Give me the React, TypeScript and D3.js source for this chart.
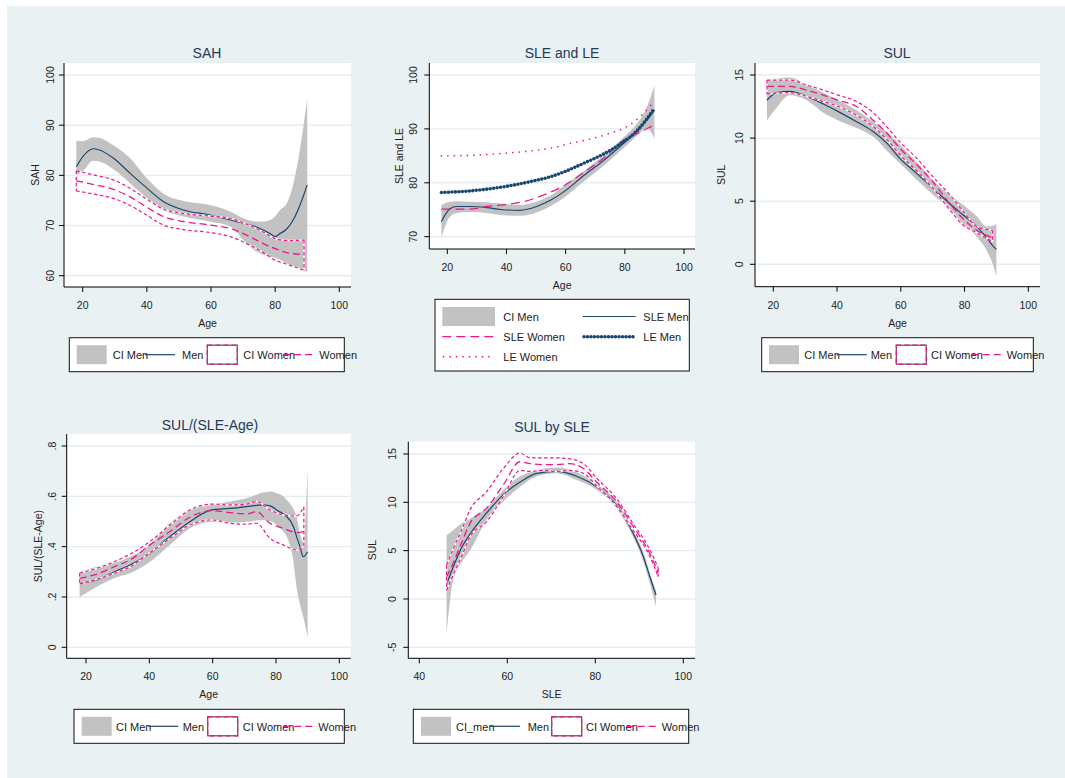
import React from "react";
import * as d3 from "d3";

// ---------------- DATA ----------------
// Panel 1: SAH by Age
const P1_AGE_M = [18, 20, 23.3, 25, 29.6, 34.8, 39.6, 45.1, 51.4, 59.7, 66, 71.1, 74.2, 76.3, 78.4, 80, 81.5, 83.6, 85.7, 87.7, 90];
const P1_SAH_M = [81.7, 83.7, 85.3, 85.1, 83.4, 80.4, 77.7, 74.8, 73.1, 72.1, 71.1, 70.3, 69.7, 69.1, 68.4, 67.8, 68.4, 69.3, 71.2, 74.0, 78.1];
const P1_SAH_M_HI = [86.9, 86.8, 87.6, 87.5, 86.0, 83.4, 79.7, 76.4, 74.9, 74.1, 72.8, 71.2, 70.8, 70.8, 71.1, 71.8, 73.1, 74.4, 78.4, 85.0, 95.3];
const P1_SAH_M_LO = [80.0, 80.8, 82.9, 82.8, 81.2, 78.4, 75.7, 73.1, 71.8, 70.8, 69.8, 66.4, 64.8, 64.2, 63.8, 63.6, 63.2, 62.5, 61.8, 61.2, 60.8];
const P1_AGE_W = [18, 24, 29.6, 34.8, 39.6, 45.1, 51.4, 59.7, 66, 71.1, 76.3, 80, 83.6, 89];
const P1_SAH_W = [78.9, 78.1, 77.2, 75.7, 73.8, 71.8, 70.8, 70.1, 69.4, 68.1, 66.4, 65.4, 64.6, 64.2];
const P1_SAH_W_HI = [80.9, 80.0, 79.1, 77.4, 75.4, 73.3, 72.4, 71.9, 71.4, 70.3, 68.7, 67.4, 67.0, 67.1];
const P1_SAH_W_LO = [76.9, 76.2, 75.4, 74.0, 72.2, 70.1, 69.2, 68.6, 67.8, 66.4, 64.6, 63.1, 62.3, 61.1];

// Panel 2: SLE and LE by Age
const P2_AGE_M = [18, 20.9, 23.2, 27.7, 33.3, 38.9, 44.6, 50.2, 54.7, 59.8, 66, 72.7, 79.5, 84, 86.3, 87.4, 90];
const P2_SLE_M = [72.8, 75.2, 75.6, 75.6, 75.4, 75.0, 74.9, 75.6, 76.7, 78.5, 81.3, 84.1, 87.3, 89.5, 90.9, 91.6, 93.5];
const P2_SLE_M_HI = [75.9, 76.5, 76.6, 76.5, 76.4, 76.1, 75.9, 76.5, 77.6, 79.6, 82.1, 85.0, 88.4, 90.9, 92.8, 94.0, 98.1];
const P2_SLE_M_LO = [69.9, 73.7, 74.4, 74.6, 74.4, 74.0, 73.9, 74.5, 75.6, 77.4, 80.2, 83.1, 86.4, 88.7, 89.8, 90.2, 88.2];
const P2_AGE_SLEW = [18, 27.7, 33.3, 38.9, 45.7, 52.4, 59.8, 66, 72.7, 79.5, 84, 89.1];
const P2_SLE_W = [75.1, 75.1, 75.6, 75.9, 76.5, 77.7, 79.6, 81.9, 84.5, 87.9, 89.1, 90.5];
const P2_AGE_LEM = [18, 27.7, 39.5, 47.9, 54.7, 59.8, 66, 72.7, 79.5, 84, 90];
const P2_LE_M = [78.2, 78.5, 79.3, 80.2, 81.1, 82.1, 83.6, 85.3, 87.6, 89.6, 93.8];
const P2_AGE_LEW = [18, 27.7, 39.5, 47.9, 54.7, 61.5, 68.2, 75, 79.5, 84, 89.6];
const P2_LE_W = [85.0, 85.1, 85.5, 85.9, 86.4, 87.3, 88.1, 89.2, 90.1, 91.7, 94.9];

// Panel 3: SUL by Age
const P3_AGE_M = [18, 21, 25.2, 30.5, 35.7, 40.4, 46.1, 51.4, 55.6, 59.7, 65, 70.2, 75.4, 79.6, 83.8, 86.9, 89.5, 90];
const P3_SUL_M = [13.0, 13.6, 13.7, 13.3, 12.7, 12.1, 11.3, 10.5, 9.6, 8.4, 7.2, 6.0, 4.8, 3.9, 3.0, 2.1, 1.3, 1.2];
const P3_SUL_M_HI = [14.6, 14.7, 14.8, 14.2, 13.6, 13.0, 12.2, 11.3, 10.5, 9.5, 8.1, 6.6, 5.5, 4.7, 3.8, 3.0, 3.1, 3.3];
const P3_SUL_M_LO = [11.4, 12.4, 13.4, 13.0, 12.0, 11.4, 10.8, 10.1, 9.0, 8.0, 6.7, 5.5, 4.4, 3.2, 2.2, 1.1, -0.5, -1.0];
const P3_AGE_W = [18, 25.2, 30.5, 35.7, 40.4, 46.1, 51.4, 55.6, 59.7, 65, 70.2, 75.4, 79.6, 83.8, 88.8];
const P3_SUL_W = [14.1, 14.1, 13.8, 13.4, 13.0, 12.5, 11.4, 10.4, 9.2, 7.9, 6.5, 4.8, 3.6, 2.7, 2.1];
const P3_SUL_W_HI = [14.6, 14.6, 14.2, 13.8, 13.4, 12.9, 12.0, 10.9, 9.7, 8.4, 6.9, 5.5, 4.2, 3.0, 2.7];
const P3_SUL_W_LO = [13.5, 13.6, 13.3, 12.9, 12.5, 11.8, 10.9, 9.9, 8.7, 7.4, 6.0, 4.3, 3.1, 2.5, 1.8];

// Panel 4: SUL/(SLE-Age) by Age
const P4_AGE_M = [18, 23.4, 30.2, 33.9, 40.2, 46.5, 52.8, 59.7, 65.5, 70.7, 76, 78.6, 80.2, 82.3, 83.4, 85.5, 86.5, 87.6, 88.6, 90];
const P4_R_M = [0.254, 0.268, 0.307, 0.327, 0.374, 0.44, 0.499, 0.546, 0.552, 0.559, 0.566, 0.56, 0.546, 0.53, 0.519, 0.48, 0.44, 0.4, 0.36, 0.38];
const P4_R_M_HI = [0.3, 0.32, 0.34, 0.36, 0.407, 0.493, 0.546, 0.566, 0.579, 0.592, 0.615, 0.619, 0.612, 0.6, 0.585, 0.55, 0.52, 0.45, 0.42, 0.711];
const P4_R_M_LO = [0.2, 0.241, 0.28, 0.294, 0.34, 0.407, 0.473, 0.499, 0.495, 0.499, 0.506, 0.5, 0.486, 0.46, 0.44, 0.34, 0.241, 0.17, 0.122, 0.042];
const P4_AGE_W = [18, 23.4, 30.2, 33.9, 40.2, 46.5, 52.8, 59.7, 65.5, 70.7, 73.9, 78.1, 82.3, 86.5, 88.8];
const P4_R_W = [0.274, 0.291, 0.327, 0.347, 0.407, 0.46, 0.517, 0.543, 0.535, 0.53, 0.539, 0.493, 0.473, 0.456, 0.46];
const P4_R_W_HI = [0.294, 0.314, 0.347, 0.37, 0.42, 0.486, 0.546, 0.569, 0.566, 0.569, 0.579, 0.546, 0.526, 0.522, 0.559];
const P4_R_W_LO = [0.252, 0.27, 0.3, 0.32, 0.376, 0.433, 0.486, 0.506, 0.493, 0.489, 0.493, 0.433, 0.407, 0.387, 0.403];

// Panel 5: SUL by SLE
const P5_SLE_M = [46.2, 47.7, 49.6, 51.5, 55.3, 59.1, 62.9, 66.7, 71.2, 75.8, 80.3, 84.8, 88.6, 90.9, 92.4, 93.8];
const P5_SUL_M = [1.5, 3.3, 5.3, 6.7, 8.9, 10.8, 12.1, 13.0, 13.2, 12.7, 11.6, 9.7, 6.8, 4.4, 2.3, 0.4];
const P5_SUL_M_HI = [6.6, 7.1, 7.8, 8.3, 9.4, 11.3, 12.7, 13.3, 13.6, 13.1, 11.9, 10.1, 7.1, 4.9, 2.7, 0.8];
const P5_SUL_M_LO = [-3.7, 2.0, 3.8, 5.0, 8.2, 10.1, 11.6, 12.7, 13.0, 12.3, 11.3, 9.4, 6.4, 3.9, 1.6, -0.8];
const P5_SLE_W = [46.2, 47.7, 49.6, 51.5, 55.3, 59.1, 62.9, 65.2, 68.2, 71.2, 74.2, 77.3, 80.3, 84.8, 88.6, 92.4, 94.3];
const P5_SUL_W = [2.3, 3.7, 5.8, 7.8, 9.4, 11.8, 14.2, 14.0, 13.9, 13.9, 14.0, 13.5, 12.1, 10.1, 7.5, 4.7, 2.7];
const P5_SUL_W_HI = [3.5, 5.2, 7.1, 9.2, 11.1, 13.5, 15.1, 14.6, 14.6, 14.6, 14.5, 14.0, 12.5, 10.4, 7.8, 5.1, 3.2];
const P5_SUL_W_LO = [0.9, 2.5, 4.4, 6.4, 8.0, 10.6, 13.3, 13.2, 13.3, 13.2, 13.3, 13.0, 11.7, 9.6, 7.1, 4.4, 2.3];

// Ticks
const AGE_TICKS = [20, 40, 60, 80, 100];
const SLE_TICKS = [40, 60, 80, 100];
const SAH_TICKS = [60, 70, 80, 90, 100];
const SLELE_TICKS = [70, 80, 90, 100];
const SUL_TICKS = [0, 5, 10, 15];
const RATIO_TICKS = [0, 0.2, 0.4, 0.6, 0.8];
const RATIO_LABELS = ["0", ".2", ".4", ".6", ".8"];
const SUL5_TICKS = [-5, 0, 5, 10, 15];

// ---------------- STYLE ----------------
const FONT = "'Liberation Sans', Arial, Helvetica, sans-serif";
const NAVY = "#1a476f";
const PINK = "#f0168c";
const GRAY = "#c2c2c2";
const BG = "#eaf1f3";
const GRID = "#e4edf0";
const TITLE = "#24395a";
const TXT = "#222";

type Style = { stroke: string; width: number; dash?: string; cap?: "round" | "butt" };
const S_MEN: Style = { stroke: NAVY, width: 1.2 };
const S_WMEAN: Style = { stroke: PINK, width: 1.3, dash: "7 4" };
const S_SLEW: Style = { stroke: PINK, width: 1.3, dash: "9 5" };
const S_LEM: Style = { stroke: NAVY, width: 3.6, dash: "0 3.5", cap: "round" };
const S_LEW: Style = { stroke: PINK, width: 1.7, dash: "0 6.5", cap: "round" };
const S_CIW: Style = { stroke: PINK, width: 1.2, dash: "3.5 2.5" };

type Layer =
  | { kind: "area"; xs: number[]; lo: number[]; hi: number[] }
  | { kind: "line"; xs: number[]; ys: number[]; style: Style }
  | { kind: "ciw"; xs: number[]; lo: number[]; hi: number[] };

type PanelCfg = {
  title: string; titleX: number; titleY: number;
  left: number; right: number; top: number; bottom: number;
  xDom: [number, number]; xRng: [number, number];
  yDom: [number, number]; yRng: [number, number];
  xTicks: number[]; yTicks: number[]; yLabels?: string[];
  xTitle: string; yTitle: string; yTitleX: number; yLabelOff: number;
  layers: Layer[];
};

function Panel({ c }: { c: PanelCfg }) {
  const x = d3.scaleLinear().domain(c.xDom).range(c.xRng);
  const y = d3.scaleLinear().domain(c.yDom).range(c.yRng);
  const line = d3.line<[number, number]>().x((d) => x(d[0])).y((d) => y(d[1])).curve(d3.curveMonotoneX);
  const area = d3
    .area<[number, number, number]>()
    .x((d) => x(d[0]))
    .y0((d) => y(d[1]))
    .y1((d) => y(d[2]))
    .curve(d3.curveMonotoneX);
  const zip = (a: number[], b: number[]) => a.map((v, i) => [v, b[i]] as [number, number]);

  const renderLine = (d: string, s: Style, key: string) => (
    <path key={key} d={d} fill="none" stroke={s.stroke} strokeWidth={s.width}
      strokeDasharray={s.dash} strokeLinecap={s.cap || "butt"} strokeLinejoin="round" />
  );

  return (
    <g>
      <rect x={c.left} y={c.top} width={c.right - c.left} height={c.bottom - c.top} fill="#fff" />
      {c.yTicks.map((t) => (
        <line key={"g" + t} x1={c.left} x2={c.right} y1={y(t)} y2={y(t)} stroke={GRID} strokeWidth={1.4} />
      ))}
      {c.layers.map((L, i) => {
        if (L.kind === "area") {
          const pts = L.xs.map((v, j) => [v, L.lo[j], L.hi[j]] as [number, number, number]);
          return <path key={i} d={area(pts) || ""} fill={GRAY} stroke="none" />;
        }
        if (L.kind === "line") {
          return renderLine(line(zip(L.xs, L.ys)) || "", L.style, "l" + i);
        }
        const n = L.xs.length - 1;
        const segs = [
          line(zip(L.xs, L.hi)) || "",
          line(zip(L.xs, L.lo)) || "",
          `M${x(L.xs[0])},${y(L.hi[0])}L${x(L.xs[0])},${y(L.lo[0])}`,
          `M${x(L.xs[n])},${y(L.hi[n])}L${x(L.xs[n])},${y(L.lo[n])}`,
        ];
        return (
          <g key={i}>
            {segs.map((d, k) => renderLine(d, { stroke: "#fff", width: 1.5 }, "w" + k))}
            {segs.map((d, k) => renderLine(d, S_CIW, "p" + k))}
          </g>
        );
      })}
      {/* axes */}
      <line x1={c.left} x2={c.left} y1={c.top} y2={c.bottom} stroke="#000" strokeWidth={1} />
      <line x1={c.left} x2={c.right} y1={c.bottom} y2={c.bottom} stroke="#000" strokeWidth={1} />
      {c.yTicks.map((t, i) => (
        <g key={"yt" + t}>
          <line x1={c.left - 5} x2={c.left} y1={y(t)} y2={y(t)} stroke="#000" />
          <text transform={`translate(${c.left - c.yLabelOff},${y(t)}) rotate(-90)`} textAnchor="middle"
            dominantBaseline="central" fontSize={10.5} fill={TXT} fontFamily={FONT}>
            {c.yLabels ? c.yLabels[i] : String(t)}
          </text>
        </g>
      ))}
      {c.xTicks.map((t) => (
        <g key={"xt" + t}>
          <line x1={x(t)} x2={x(t)} y1={c.bottom} y2={c.bottom + 5} stroke="#000" />
          <text x={x(t)} y={c.bottom + 18} textAnchor="middle" dominantBaseline="central" fontSize={10.5}
            fill={TXT} fontFamily={FONT}>{t}</text>
        </g>
      ))}
      <text x={(c.left + c.right) / 2} y={c.bottom + 36} textAnchor="middle" dominantBaseline="central"
        fontSize={10.5} fill={TXT} fontFamily={FONT}>{c.xTitle}</text>
      <text transform={`translate(${c.yTitleX},${(c.top + c.bottom) / 2}) rotate(-90)`} textAnchor="middle"
        dominantBaseline="central" fontSize={10.5} fill={TXT} fontFamily={FONT}>{c.yTitle}</text>
      <text x={c.titleX} y={c.titleY} textAnchor="middle" dominantBaseline="central" fontSize={14}
        fill={TITLE} fontFamily={FONT}>{c.title}</text>
    </g>
  );
}

type LegItem = { kind: "ci" | "ciw" | "line"; x0: number; x1: number; cy: number; tx: number; label: string; style?: Style };
type LegCfg = { box: [number, number, number, number]; items: LegItem[]; clip?: boolean; id: string };

function Legend({ L }: { L: LegCfg }) {
  const [x0, y0, x1, y1] = L.box;
  return (
    <g>
      {L.clip && (
        <defs>
          <clipPath id={L.id}>
            <rect x={x0} y={y0} width={x1 - x0} height={y1 - y0} />
          </clipPath>
        </defs>
      )}
      <rect x={x0} y={y0} width={x1 - x0} height={y1 - y0} fill="#fff" stroke="none" />
      <g clipPath={L.clip ? `url(#${L.id})` : undefined}>
        {L.items.map((it, i) => (
          <g key={i}>
            {it.kind === "ci" && <rect x={it.x0} y={it.cy - 9.5} width={it.x1 - it.x0} height={19} fill={GRAY} />}
            {it.kind === "ciw" && (
              <g>
                <rect x={it.x0} y={it.cy - 9.5} width={it.x1 - it.x0} height={19} fill="#fff" stroke="#555" strokeWidth={1.2} />
                <rect x={it.x0} y={it.cy - 9.5} width={it.x1 - it.x0} height={19} fill="none" stroke={PINK}
                  strokeWidth={1.3} strokeDasharray="5 3" />
              </g>
            )}
            {it.kind === "line" && it.style && (
              <line x1={it.x0} x2={it.x1} y1={it.cy} y2={it.cy} stroke={it.style.stroke} strokeWidth={it.style.width}
                strokeDasharray={it.style.dash} strokeLinecap={it.style.cap || "butt"} />
            )}
            <text x={it.tx} y={it.cy + 0.5} dominantBaseline="central" fontSize={11} fill={TXT} fontFamily={FONT}>
              {it.label}
            </text>
          </g>
        ))}
      </g>
      <rect x={x0} y={y0} width={x1 - x0} height={y1 - y0} fill="none" stroke="#111" strokeWidth={1} />
    </g>
  );
}

function stdLegend(id: string, box: [number, number, number, number], k: number[], ciLabel: string): LegCfg {
  const cy = (box[1] + box[3]) / 2;
  return {
    id, box,
    items: [
      { kind: "ci", x0: k[0], x1: k[0] + 30, cy, tx: k[1], label: ciLabel },
      { kind: "line", x0: k[2], x1: k[2] + 30, cy, tx: k[3], label: "Men", style: S_MEN },
      { kind: "ciw", x0: k[4], x1: k[4] + 30, cy, tx: k[5], label: "CI Women" },
      { kind: "line", x0: k[6], x1: k[6] + 30, cy, tx: k[7], label: "Women", style: S_WMEAN },
    ],
  };
}

export default function App() {
  const panels: PanelCfg[] = [
    {
      title: "SAH", titleX: 207, titleY: 52.5, left: 64, right: 351, top: 63, bottom: 287,
      xDom: [20, 100], xRng: [82.7, 339.3], yDom: [60, 100], yRng: [275.7, 75],
      xTicks: AGE_TICKS, yTicks: SAH_TICKS, xTitle: "Age", yTitle: "SAH", yTitleX: 35, yLabelOff: 14,
      layers: [
        { kind: "area", xs: P1_AGE_M, lo: P1_SAH_M_LO, hi: P1_SAH_M_HI },
        { kind: "line", xs: P1_AGE_M, ys: P1_SAH_M, style: S_MEN },
        { kind: "ciw", xs: P1_AGE_W, lo: P1_SAH_W_LO, hi: P1_SAH_W_HI },
        { kind: "line", xs: P1_AGE_W, ys: P1_SAH_W, style: S_WMEAN },
      ],
    },
    {
      title: "SLE and LE", titleX: 562, titleY: 52.5, left: 429.3, right: 695, top: 63, bottom: 249,
      xDom: [20, 100], xRng: [447.3, 684], yDom: [70, 100], yRng: [236.7, 75],
      xTicks: AGE_TICKS, yTicks: SLELE_TICKS, xTitle: "Age", yTitle: "SLE and LE", yTitleX: 399, yLabelOff: 16,
      layers: [
        { kind: "area", xs: P2_AGE_M, lo: P2_SLE_M_LO, hi: P2_SLE_M_HI },
        { kind: "line", xs: P2_AGE_M, ys: P2_SLE_M, style: S_MEN },
        { kind: "line", xs: P2_AGE_SLEW, ys: P2_SLE_W, style: S_SLEW },
        { kind: "line", xs: P2_AGE_LEM, ys: P2_LE_M, style: S_LEM },
        { kind: "line", xs: P2_AGE_LEW, ys: P2_LE_W, style: S_LEW },
      ],
    },
    {
      title: "SUL", titleX: 897, titleY: 52.5, left: 755, right: 1040, top: 63, bottom: 286.7,
      xDom: [20, 100], xRng: [773.3, 1028.3], yDom: [0, 15], yRng: [264.3, 75],
      xTicks: AGE_TICKS, yTicks: SUL_TICKS, xTitle: "Age", yTitle: "SUL", yTitleX: 721, yLabelOff: 16,
      layers: [
        { kind: "area", xs: P3_AGE_M, lo: P3_SUL_M_LO, hi: P3_SUL_M_HI },
        { kind: "line", xs: P3_AGE_M, ys: P3_SUL_M, style: S_MEN },
        { kind: "ciw", xs: P3_AGE_W, lo: P3_SUL_W_LO, hi: P3_SUL_W_HI },
        { kind: "line", xs: P3_AGE_W, ys: P3_SUL_W, style: S_WMEAN },
      ],
    },
    {
      title: "SUL/(SLE-Age)", titleX: 210, titleY: 425, left: 66.7, right: 350.7, top: 434, bottom: 658.3,
      xDom: [20, 100], xRng: [86, 339.3], yDom: [0, 0.8], yRng: [647.3, 446],
      xTicks: AGE_TICKS, yTicks: RATIO_TICKS, yLabels: RATIO_LABELS, xTitle: "Age", yTitle: "SUL/(SLE-Age)",
      yTitleX: 38, yLabelOff: 15,
      layers: [
        { kind: "area", xs: P4_AGE_M, lo: P4_R_M_LO, hi: P4_R_M_HI },
        { kind: "line", xs: P4_AGE_M, ys: P4_R_M, style: S_MEN },
        { kind: "ciw", xs: P4_AGE_W, lo: P4_R_W_LO, hi: P4_R_W_HI },
        { kind: "line", xs: P4_AGE_W, ys: P4_R_W, style: S_WMEAN },
      ],
    },
    {
      title: "SUL by SLE", titleX: 552, titleY: 426.5, left: 408.3, right: 695, top: 441.7, bottom: 658.3,
      xDom: [40, 100], xRng: [419.3, 683.3], yDom: [-5, 15], yRng: [647.3, 454],
      xTicks: SLE_TICKS, yTicks: SUL5_TICKS, xTitle: "SLE", yTitle: "SUL", yTitleX: 372, yLabelOff: 16,
      layers: [
        { kind: "area", xs: P5_SLE_M, lo: P5_SUL_M_LO, hi: P5_SUL_M_HI },
        { kind: "line", xs: P5_SLE_M, ys: P5_SUL_M, style: S_MEN },
        { kind: "ciw", xs: P5_SLE_W, lo: P5_SUL_W_LO, hi: P5_SUL_W_HI },
        { kind: "line", xs: P5_SLE_W, ys: P5_SUL_W, style: S_WMEAN },
      ],
    },
  ];

  const legends: LegCfg[] = [
    stdLegend("lg1", [69.3, 337.7, 344.3, 371.7], [76.7, 112.7, 145, 182, 207.3, 243.3, 283, 319.3], "CI Men"),
    stdLegend("lg3", [761.7, 337.7, 1033.3, 371.7], [769, 804.3, 836.7, 870.7, 896.3, 931, 971.7, 1006.7], "CI Men"),
    stdLegend("lg4", [74, 709.3, 344.3, 743.3], [81.7, 116, 148.3, 182.7, 207.7, 242.7, 283.3, 318.3], "CI Men"),
    stdLegend("lg5", [413.3, 709.3, 688.7, 743.3], [421, 456, 490, 527.7, 551.7, 586, 626.7, 661.7], "CI_men"),
    {
      id: "lg2", box: [435, 299.3, 689.3, 371], clip: true,
      items: [
        { kind: "ci", x0: 442.3, x1: 495, cy: 316.5, tx: 503.3, label: "CI Men" },
        { kind: "line", x0: 582.7, x1: 635.7, cy: 316.5, tx: 643.3, label: "SLE Men", style: S_MEN },
        { kind: "line", x0: 442.3, x1: 495, cy: 336.7, tx: 503.3, label: "SLE Women", style: S_SLEW },
        { kind: "line", x0: 584, x1: 635.7, cy: 336.7, tx: 643.3, label: "LE Men", style: S_LEM },
        { kind: "line", x0: 443.5, x1: 495, cy: 356.7, tx: 503.3, label: "LE Women", style: S_LEW },
      ],
    },
  ];

  return (
    <svg width={1065} height={778} style={{ position: "absolute", left: 0, top: 0, display: "block" }}>
      <rect x={0} y={0} width={1065} height={778} fill="#fff" />
      <rect x={7} y={6} width={1058} height={772} fill={BG} />
      {panels.map((p, i) => <Panel key={i} c={p} />)}
      {legends.map((l) => <Legend key={l.id} L={l} />)}
    </svg>
  );
}
